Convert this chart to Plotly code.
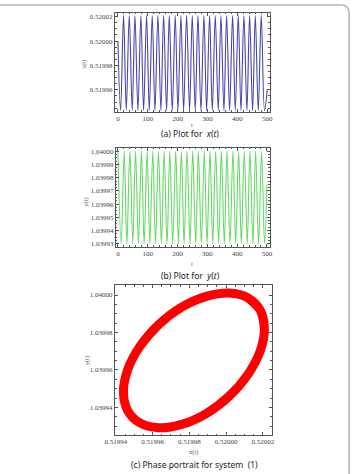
import plotly.graph_objects as go

W, H = 355, 474

# ---- (a) x(t): turning points ----
xt_t = [0, 9, 19, 28, 38, 48, 57, 67, 77, 86, 96, 105, 115, 124, 134, 144, 153, 163, 172,
        182, 192, 201, 211, 220, 230, 240, 249, 259, 268, 278, 288, 297, 307, 316, 326,
        336, 345, 355, 364, 374, 384, 393, 403, 412, 422, 432, 441, 451, 460, 470, 480, 491, 500]
xt_v = [0.52000,
        0.519943, 0.520021, 0.519943, 0.520021, 0.519943, 0.520021, 0.519943, 0.520021,
        0.519943, 0.520021, 0.519943, 0.520021, 0.519943, 0.520021, 0.519943, 0.520021,
        0.519943, 0.520021, 0.519943, 0.520021, 0.519943, 0.520021, 0.519943, 0.520021,
        0.519943, 0.520021, 0.519943, 0.520021, 0.519943, 0.520021, 0.519943, 0.520021,
        0.519943, 0.520021, 0.519943, 0.520021, 0.519943, 0.520021, 0.519943, 0.520021,
        0.519943, 0.520021, 0.519943, 0.520021, 0.519943, 0.520021, 0.519943, 0.520021,
        0.519943, 0.520021, 0.519943, 0.51996]

# ---- (b) y(t): turning points ----
yt_t = [0, 11, 21, 30, 40, 50, 59, 69, 79, 88, 98, 107, 117, 126, 136, 146, 155, 165, 174,
        184, 194, 203, 213, 222, 232, 242, 251, 261, 270, 280, 290, 299, 309, 318, 328,
        338, 347, 357, 366, 376, 386, 395, 405, 414, 424, 434, 443, 453, 462, 472, 482, 492, 500]
yt_v = [1.040000,
        1.039930, 1.040000, 1.039930, 1.040000, 1.039930, 1.040000, 1.039930, 1.040000,
        1.039930, 1.040000, 1.039930, 1.040000, 1.039930, 1.040000, 1.039930, 1.040000,
        1.039930, 1.040000, 1.039930, 1.040000, 1.039930, 1.040000, 1.039930, 1.040000,
        1.039930, 1.040000, 1.039930, 1.040000, 1.039930, 1.040000, 1.039930, 1.040000,
        1.039930, 1.040000, 1.039930, 1.040000, 1.039930, 1.040000, 1.039930, 1.040000,
        1.039930, 1.040000, 1.039930, 1.040000, 1.039930, 1.040000, 1.039930, 1.040000,
        1.039930, 1.040000, 1.039930, 1.039975]

# ---- (c) phase portrait: points read along the centre of the red band (loop, with overlap) ----
ph_x = [0.5200209, 0.5200186, 0.5200119, 0.5200017, 0.5199892, 0.5199758, 0.5199633,
        0.5199531, 0.5199464, 0.5199441, 0.5199464, 0.5199531, 0.5199633, 0.5199758,
        0.5199892, 0.5200017, 0.5200119, 0.5200186, 0.5200209, 0.5200186, 0.5200119]
ph_y = [1.0399820, 1.0399919, 1.0399985, 1.0400011, 1.0399993, 1.0399935, 1.0399842,
        1.0399726, 1.0399601, 1.0399482, 1.0399383, 1.0399317, 1.0399291, 1.0399309,
        1.0399367, 1.0399460, 1.0399576, 1.0399701, 1.0399820, 1.0399919, 1.0399985]

def fx(px):
    return px / W

def fy(py):
    return 1 - py / H

fig = go.Figure()
fig.add_trace(go.Scatter(x=xt_t, y=xt_v, mode="lines", line=dict(color="#4646aa", width=1.1, shape="spline"),
                         xaxis="x", yaxis="y", showlegend=False))
fig.add_trace(go.Scatter(x=yt_t, y=yt_v, mode="lines", line=dict(color="#66d866", width=1.1, shape="spline"),
                         xaxis="x2", yaxis="y2", showlegend=False))
fig.add_trace(go.Scatter(x=ph_x, y=ph_y, mode="lines", line=dict(color="#ff0000", width=9, shape="spline"),
                         xaxis="x3", yaxis="y3", showlegend=False))

tickfont = dict(family="Liberation Serif, Times New Roman, serif", size=7, color="#444")
common = dict(showline=True, linecolor="#555", linewidth=1, mirror="ticks", ticks="inside",
              ticklen=3, tickcolor="#555", showgrid=False, zeroline=False, tickfont=tickfont)

fig.update_layout(
    width=W, height=H, margin=dict(l=0, r=0, t=0, b=0),
    paper_bgcolor="white", plot_bgcolor="white",
    xaxis=dict(domain=[fx(109), fx(269.7)], range=[-9.7, 508.7], tickvals=[0, 100, 200, 300, 400, 500],
               minor=dict(ticks="inside", ticklen=1.5, dtick=20, tickcolor="#555"), anchor="y", **common),
    yaxis=dict(domain=[fy(112), fy(12.7)], range=[0.519942, 0.5200233],
               tickvals=[0.51996, 0.51998, 0.52000, 0.52002], tickformat=".5f",
               minor=dict(ticks="inside", ticklen=1.5, dtick=0.000005, tickcolor="#555"), anchor="x", **common),
    xaxis2=dict(domain=[fx(110), fx(269.7)], range=[-6.5, 509.7], tickvals=[0, 100, 200, 300, 400, 500],
                minor=dict(ticks="inside", ticklen=1.5, dtick=20, tickcolor="#555"), anchor="y2", **common),
    yaxis2=dict(domain=[fy(247.3), fy(148)], range=[1.0399277, 1.0400028],
                tickvals=[1.03993, 1.03994, 1.03995, 1.03996, 1.03997, 1.03998, 1.03999, 1.04000],
                tickformat=".5f",
                minor=dict(ticks="inside", ticklen=1.5, dtick=0.0000025, tickcolor="#555"), anchor="x2", **common),
    xaxis3=dict(domain=[fx(109), fx(271.7)], range=[0.5199395, 0.5200249],
                tickvals=[0.51994, 0.51996, 0.51998, 0.52000, 0.52002], tickformat=".5f",
                minor=dict(ticks="inside", ticklen=1.5, dtick=0.000005, tickcolor="#555"), anchor="y3", **common),
    yaxis3=dict(domain=[fy(436), fy(285.7)], range=[1.0399252, 1.0400053],
                tickvals=[1.03994, 1.03996, 1.03998, 1.04000], tickformat=".5f",
                minor=dict(ticks="inside", ticklen=1.5, dtick=0.000005, tickcolor="#555"), anchor="x3", **common),
)

small = dict(family="Liberation Serif, Times New Roman, serif", size=6.5, color="#555")
cap = dict(family="Noto Sans", size=8.5, color="#222")

def ann(px, py, text, font, angle=0):
    fig.add_annotation(x=fx(px), y=fy(py), xref="paper", yref="paper", text=text, showarrow=False,
                       font=font, textangle=angle, xanchor="center", yanchor="middle")

ann(77, 65, "x(t)", small, -90)
ann(188.7, 124.5, "t", small)
ann(187, 134, "(a) Plot for  <i>x</i>(<i>t</i>)", cap)

ann(78, 203, "y(t)", small, -90)
ann(189, 264.5, "t", small)
ann(187, 276, "(b) Plot for  <i>y</i>(<i>t</i>)", cap)

ann(80, 362, "y(t)", small, -90)
ann(190, 452.5, "x(t)", small)
ann(192, 465, "(c) Phase portrait for system  (1)", cap)

# outer rounded card border (top and right edges)
fig.add_shape(type="path", xref="paper", yref="paper",
              path=f"M -0.05,{fy(5)} L {fx(344)},{fy(5)} Q {fx(352)},{fy(5)} {fx(352)},{fy(13)} L {fx(352)},-0.05",
              line=dict(color="#b5b5b5", width=1.6))

fig.write_html("out.html")
